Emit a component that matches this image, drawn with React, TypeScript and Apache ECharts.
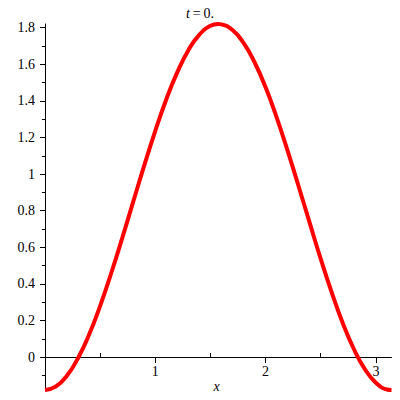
import React, { useEffect, useRef } from "react";
import * as echarts from "echarts";

const xValues = [0, 0.1, 0.2, 0.3, 0.4, 0.5, 0.6, 0.7, 0.8, 0.9, 1.0, 1.1, 1.2, 1.3, 1.4, 1.5, 1.5708, 1.6, 1.7, 1.8, 1.9, 2.0, 2.1, 2.2, 2.3, 2.4, 2.5, 2.6, 2.7, 2.8, 2.9, 3.0, 3.1, 3.1416];
const yValues = [-0.18, -0.16, -0.101, -0.005, 0.123, 0.28, 0.458, 0.65, 0.849, 1.047, 1.236, 1.409, 1.557, 1.677, 1.762, 1.81, 1.82, 1.818, 1.787, 1.717, 1.611, 1.474, 1.31, 1.127, 0.932, 0.733, 0.536, 0.352, 0.185, 0.044, -0.066, -0.14, -0.177, -0.18];

const yMajorTicks = [0, 0.2, 0.4, 0.6, 0.8, 1, 1.2, 1.4, 1.6, 1.8];
const yMinorTicks = [-0.1, 0.1, 0.3, 0.5, 0.7, 0.9, 1.1, 1.3, 1.5, 1.7];
const xMajorTicks = [1, 2, 3];
const xMinorTicks = [0.5, 1.5, 2.5];

const FONT = "Liberation Serif";

export default function App() {
  const ref = useRef<HTMLDivElement>(null);
  useEffect(() => {
    if (!ref.current) return;
    const chart = echarts.init(ref.current, undefined, { renderer: "svg" });
    const data = xValues.map((x, i) => [x, yValues[i]]);
    chart.setOption({
      animation: false,
      backgroundColor: "#ffffff",
      graphic: [
        {
          type: "text",
          x: 200,
          y: 13.5,
          style: {
            text: "{i|t}\u2009=\u20090.",
            fontFamily: FONT,
            fontSize: 14,
            fill: "#000",
            align: "center",
            verticalAlign: "middle",
            rich: {
              i: { fontFamily: FONT, fontSize: 14, fontStyle: "italic", fill: "#000" },
            },
          },
        },
        {
          type: "text",
          x: 216.7,
          y: 386,
          style: {
            text: "x",
            fontFamily: FONT,
            fontSize: 14,
            fontStyle: "italic",
            fill: "#000",
            align: "center",
            verticalAlign: "middle",
          },
        },
      ],
      grid: { left: 45, right: 8.5, top: 24, bottom: 10, containLabel: false, outerBoundsMode: "none" },
      xAxis: [
        {
          type: "value",
          min: 0,
          max: 3.1416,
          axisLine: { show: true, onZero: true, onZeroAxisIndex: 0, lineStyle: { color: "#000", width: 1 } },
          axisTick: { show: true, length: 6, customValues: xMajorTicks, lineStyle: { color: "#000" } },
          axisLabel: { show: false },
          splitLine: { show: false },
        },
        {
          type: "value",
          min: 0,
          max: 3.1416,
          axisLine: { show: false, onZero: true, onZeroAxisIndex: 0 },
          axisTick: { show: true, length: 4, customValues: xMinorTicks, lineStyle: { color: "#000" } },
          axisLabel: { show: false },
          splitLine: { show: false },
        },
        {
          type: "value",
          min: 0,
          max: 3.1416,
          position: "bottom",
          axisLine: { show: false, onZero: false },
          axisTick: { show: false },
          axisLabel: { show: true, customValues: xMajorTicks, margin: -26, fontFamily: FONT, fontSize: 14, color: "#000", verticalAlign: "top" },
          splitLine: { show: false },
        },
      ],
      yAxis: [
        {
          type: "value",
          min: -0.18,
          max: 1.82,
          axisLine: { show: true, onZero: false, lineStyle: { color: "#000", width: 1 } },
          axisTick: { show: true, length: 5, customValues: yMajorTicks, lineStyle: { color: "#000" } },
          axisLabel: {
            show: true,
            customValues: yMajorTicks,
            margin: 10,
            fontFamily: FONT,
            fontSize: 14,
            color: "#000",
            formatter: (v: number) => String(Math.round(v * 10) / 10),
          },
          splitLine: { show: false },
        },
        {
          type: "value",
          min: -0.18,
          max: 1.82,
          position: "left",
          axisLine: { show: false, onZero: false },
          axisTick: { show: true, length: 3, customValues: yMinorTicks, lineStyle: { color: "#000" } },
          axisLabel: { show: false },
          splitLine: { show: false },
        },
      ],
      series: [
        {
          type: "line",
          data,
          xAxisIndex: 0,
          yAxisIndex: 0,
          smooth: true,
          showSymbol: false,
          lineStyle: { color: "#ff0000", width: 4 },
          clip: false,
        },
      ],
    });
    return () => chart.dispose();
  }, []);
  return <div ref={ref} style={{ position: "fixed", left: 0, top: 0, width: 400, height: 400 }} />;
}
